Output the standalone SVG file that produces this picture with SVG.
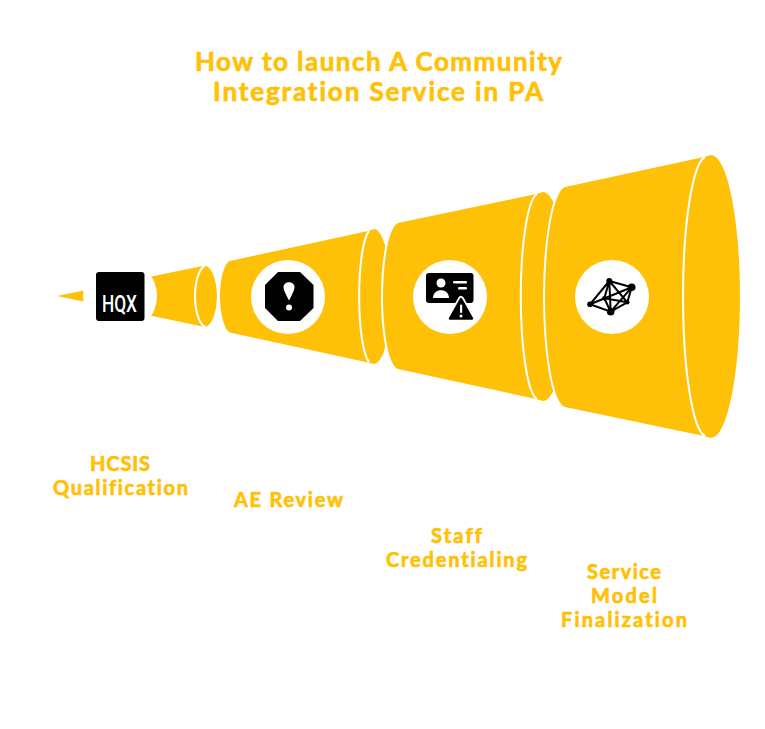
<svg xmlns="http://www.w3.org/2000/svg" width="765" height="729" viewBox="0 0 765 729">
<style>
.seg{fill:#FFC107;stroke:#fff;stroke-width:4;paint-order:stroke;stroke-linejoin:round}
.rim{fill:none;stroke:#fff;stroke-width:2}
.disc{fill:#fff}
.t{font-family:"Lato","Noto Sans",sans-serif;font-weight:700;font-variant-ligatures:none;fill:#FFC107;text-anchor:middle;stroke:#FFC107;stroke-width:.7;stroke-linejoin:round}
.title{font-size:26px}
.lab{font-size:20px}
.net{stroke:#000;stroke-width:2;fill:none}
</style>
<rect width="765" height="729" fill="#fff"/>
<g id="connectors"/>
<g id="title">
<text class="t title" x="378.500" y="70.500" textLength="367" lengthAdjust="spacing">How to launch A Community</text>
<text class="t title" x="378" y="100.500" textLength="330" lengthAdjust="spacing">Integration Service in PA</text>
</g>
<g id="node-hcsis">
<path d="M57,296 L200,266.500 L205.500,265.500 A13,31 0 0 1 205.500,327 L200,326 Z" fill="#FFC107"/>
<path class="rim" d="M205.500,265.500 A12,31 0 0 0 205.500,327"/>
<circle class="disc" cx="120" cy="296" r="37"/>
<rect x="96" y="272" width="48.500" height="49" rx="3" fill="#000"/>
<text x="119.500" y="312" font-family="Roboto,sans-serif" font-weight="500" font-size="24" fill="#fff" text-anchor="middle" textLength="35" lengthAdjust="spacingAndGlyphs">HQX</text>
<text class="t lab" x="120" y="471" textLength="60" lengthAdjust="spacing">HCSIS</text>
<text class="t lab" x="120.500" y="495" textLength="135" lengthAdjust="spacing">Qualification</text>
</g>
<g id="node-ae">
<path class="seg" d="M230,261 L368,231 L374,229 A17,67.500 0 0 1 374,364 L368,362.500 L230,332.500 C224,330 220,312 220,296.500 C220,280 224,263 230,261 Z"/>
<path class="rim" d="M369,231 A12.500,67 0 0 0 369,362"/>
<circle class="disc" cx="288" cy="297" r="37"/>
<polygon points="278,272 300,272 313.500,285 313.500,308 300,321 278,321 265,308 265,285" fill="#000"/>
<path d="M283.500,287 C283.500,280.500 294.500,280.500 294.500,287 C294.500,290 291,297 289,300.500 C287,297 283.500,290 283.500,287 Z" fill="#fff"/>
<circle cx="289" cy="307.500" r="3" fill="#fff"/>
<text class="t lab" x="288.500" y="507" textLength="109" lengthAdjust="spacing">AE Review</text>
</g>
<g id="node-staff">
<path class="seg" d="M398,223 L536,194 L543,192 A24,104.500 0 0 1 543,401 L536,399 L398,369 C388,365 383,330 383,296.500 C383,265 388,227 398,223 Z"/>
<path class="rim" d="M537,194 A18,103 0 0 0 537,399"/>
<circle class="disc" cx="450" cy="297" r="37"/>
<rect x="426" y="273" width="47.500" height="30" rx="3" fill="#000"/>
<circle cx="441" cy="283" r="4.500" fill="#fff"/>
<path d="M433,298 C433,287.500 449,287.500 449,298 Z" fill="#fff"/>
<rect x="453" y="281" width="14" height="2.500" rx="1.200" fill="#fff"/>
<rect x="458" y="287" width="9" height="2.500" rx="1.200" fill="#fff"/>
<path d="M461,299 L472,318.500 L450,318.500 Z" fill="#000" stroke="#fff" stroke-width="6" stroke-linejoin="round" paint-order="stroke"/>
<path d="M461,299 L472,318.500 L450,318.500 Z" fill="#000" stroke="#000" stroke-width="2.500" stroke-linejoin="round"/>
<rect x="460" y="304.500" width="2.200" height="8.500" rx="1" fill="#fff"/>
<circle cx="461" cy="316" r="1.500" fill="#fff"/>
<text class="t lab" x="456.500" y="543" textLength="51" lengthAdjust="spacing">Staff</text>
<text class="t lab" x="456.500" y="567" textLength="141" lengthAdjust="spacing">Credentialing</text>
</g>
<g id="node-service">
<path class="seg" d="M565,187 L704,157 L711,155 A29,141.500 0 0 1 711,438 L704,436 L565,407 C552,402 545,345 545,296.500 C545,250 552,192 565,187 Z"/>
<path class="rim" d="M705,157 A24,140 0 0 0 705,436"/>
<circle class="disc" cx="612" cy="297" r="37"/>
<path class="net" d="M609.300,281 L631.700,287.300 L627.300,302.300 L610.700,311.700 L590,304.300 Z M609.300,281 L604.300,298.300 L590,304.300 M604.300,298.300 L610.700,311.700 M609.300,281 L610.700,311.700 M609.300,281 L627.300,302.300 M590,304.300 L631.700,287.300 M610.700,311.700 L631.700,287.300 M604.300,298.300 L627.300,302.300"/>
<circle cx="609.300" cy="281" r="3"/>
<circle cx="631.700" cy="287.300" r="3.800"/>
<circle cx="590" cy="304.300" r="2.800"/>
<circle cx="610.700" cy="311.700" r="3.800"/>
<circle cx="604.300" cy="298.300" r="2.200"/>
<circle cx="627.300" cy="302.300" r="2.200"/>
<text class="t lab" x="624" y="579" textLength="74" lengthAdjust="spacing">Service</text>
<text class="t lab" x="624" y="603" textLength="66" lengthAdjust="spacing">Model</text>
<text class="t lab" x="624" y="627" textLength="126" lengthAdjust="spacing">Finalization</text>
</g>
</svg>
